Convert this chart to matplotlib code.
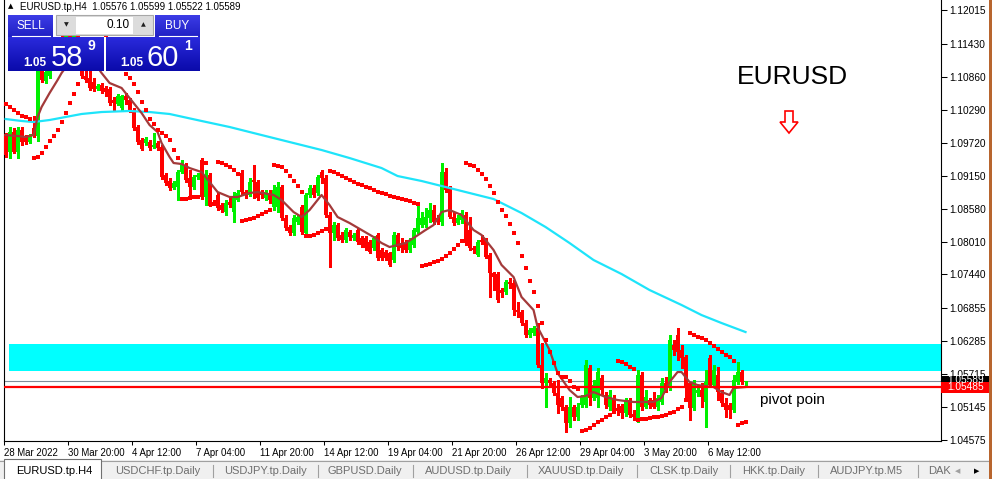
import numpy as np
import matplotlib
matplotlib.use("Agg")
import matplotlib.pyplot as plt
from matplotlib.patches import Rectangle, Polygon
from matplotlib.transforms import blended_transform_factory
from matplotlib.colors import LinearSegmentedColormap

plt.rcParams['font.family'] = ['Liberation Sans', 'DejaVu Sans']

# ---------------- data (EURUSD.tp, H4) ----------------
OPEN = [
    1.09870, 1.09558, 1.09904, 1.09558, 1.09939, 1.09800, 1.09731, 1.09974, 1.09835, 1.11115,
    1.10787, 1.10873, 1.11046, 1.11237, 1.11410, 1.11323, 1.11583, 1.11461, 1.11704, 1.11237,
    1.10873, 1.10839, 1.10769, 1.10648, 1.10718, 1.10666, 1.10648, 1.10458, 1.10389, 1.10320,
    1.10527, 1.10458, 1.10285, 1.09991, 1.09766, 1.09714, 1.09731, 1.09645, 1.09714, 1.09645,
    1.09160, 1.09057, 1.08936, 1.08953, 1.09212, 1.09333, 1.09108, 1.08953, 1.09126, 1.09420,
    1.08780, 1.09160, 1.08693, 1.08815, 1.08641, 1.08520, 1.08693, 1.08520, 1.08728, 1.09195,
    1.08866, 1.08815, 1.09074, 1.09039, 1.08866, 1.08763, 1.08849, 1.08607, 1.08607, 1.08953,
    1.08417, 1.08261, 1.08157, 1.08347, 1.08607, 1.08157, 1.08815, 1.08936, 1.08849, 1.09212,
    1.09108, 1.08469, 1.08157, 1.08295, 1.08123, 1.08036, 1.08174, 1.08071, 1.08209, 1.08071,
    1.08071, 1.08002, 1.07898, 1.08123, 1.07863, 1.07829, 1.07811, 1.07690, 1.08123, 1.07984,
    1.07984, 1.07863, 1.07950, 1.08174, 1.08295, 1.08295, 1.08417, 1.08555, 1.08417, 1.08347,
    1.09212, 1.08936, 1.08434, 1.08330, 1.08382, 1.08469, 1.08209, 1.07898, 1.07777, 1.08036,
    1.08036, 1.07777, 1.07465, 1.07448, 1.07171, 1.07137, 1.07310, 1.07293, 1.06825, 1.06790,
    1.06600, 1.06393, 1.06427, 1.06514, 1.05873, 1.05562, 1.05614, 1.05562, 1.05389, 1.05303,
    1.05147, 1.04870, 1.05147, 1.04974, 1.05182, 1.05182, 1.05822, 1.05303, 1.05303, 1.05649,
    1.05355, 1.05147, 1.05303, 1.05130, 1.05165, 1.05043, 1.05268, 1.05026, 1.04922, 1.05700,
    1.05147, 1.05268, 1.05268, 1.05147, 1.05234, 1.05562, 1.05476, 1.06220, 1.06393, 1.06133,
    1.06012, 1.05562, 1.05130, 1.05389, 1.05441, 1.05234, 1.05994, 1.05527, 1.05700, 1.05389,
    1.05216, 1.05182, 1.05095, 1.05579, 1.05752, 1.05576,
]
HIGH = [
    1.09887, 1.09991, 1.09974, 1.09991, 1.09991, 1.09852, 1.09870, 1.10181, 1.11150, 1.11237,
    1.11046, 1.11115, 1.11288, 1.11496, 1.11583, 1.11669, 1.11704, 1.11807, 1.11842, 1.11323,
    1.10977, 1.11012, 1.10839, 1.10735, 1.10752, 1.10700, 1.10683, 1.10510, 1.10562, 1.10545,
    1.10579, 1.10493, 1.10320, 1.10025, 1.09800, 1.09818, 1.09766, 1.09887, 1.09749, 1.09679,
    1.09195, 1.09108, 1.09057, 1.09247, 1.09420, 1.09368, 1.09247, 1.09160, 1.09195, 1.09454,
    1.09247, 1.09195, 1.08728, 1.08849, 1.08676, 1.08728, 1.08763, 1.08866, 1.08901, 1.09247,
    1.08901, 1.09108, 1.09333, 1.09074, 1.08901, 1.08901, 1.08901, 1.08987, 1.09039, 1.08987,
    1.08469, 1.08295, 1.08469, 1.08469, 1.08641, 1.08849, 1.08987, 1.08987, 1.09160, 1.09247,
    1.09160, 1.08520, 1.08347, 1.08330, 1.08174, 1.08244, 1.08209, 1.08157, 1.08244, 1.08105,
    1.08105, 1.08036, 1.08105, 1.08157, 1.07898, 1.07863, 1.07829, 1.08174, 1.08157, 1.08071,
    1.08036, 1.08071, 1.08244, 1.08676, 1.08520, 1.08590, 1.08676, 1.08641, 1.08469, 1.09368,
    1.09281, 1.08970, 1.08520, 1.08469, 1.08555, 1.08520, 1.08434, 1.07932, 1.08036, 1.08123,
    1.08071, 1.07811, 1.07482, 1.07482, 1.07206, 1.07344, 1.07379, 1.07344, 1.06963, 1.06825,
    1.06652, 1.06514, 1.06548, 1.06600, 1.06254, 1.05735, 1.05649, 1.05597, 1.05614, 1.05337,
    1.05182, 1.05320, 1.05182, 1.05216, 1.05355, 1.05960, 1.05873, 1.05614, 1.05822, 1.05700,
    1.05406, 1.05441, 1.05355, 1.05199, 1.05199, 1.05303, 1.05303, 1.05095, 1.05787, 1.05752,
    1.05441, 1.05303, 1.05406, 1.05355, 1.05649, 1.05667, 1.06393, 1.06306, 1.06514, 1.06220,
    1.06046, 1.05579, 1.05614, 1.05493, 1.05562, 1.05787, 1.06046, 1.05873, 1.05839, 1.05441,
    1.05303, 1.05216, 1.05700, 1.05925, 1.05787, 1.05599,
]
LOW = [
    1.09472, 1.09454, 1.09541, 1.09454, 1.09679, 1.09696, 1.09714, 1.09818, 1.09749, 1.10769,
    1.10752, 1.10839, 1.10977, 1.11150, 1.11237, 1.11288, 1.11358, 1.11410, 1.11185, 1.10839,
    1.10769, 1.10631, 1.10614, 1.10631, 1.10579, 1.10527, 1.10372, 1.10285, 1.10372, 1.10285,
    1.10389, 1.10250, 1.09939, 1.09696, 1.09593, 1.09679, 1.09593, 1.09627, 1.09593, 1.09091,
    1.08987, 1.08901, 1.08918, 1.08728, 1.09195, 1.09039, 1.08763, 1.08918, 1.09091, 1.08745,
    1.08641, 1.08624, 1.08641, 1.08555, 1.08520, 1.08469, 1.08607, 1.08347, 1.08711, 1.08832,
    1.08763, 1.08797, 1.08763, 1.08728, 1.08763, 1.08728, 1.08676, 1.08555, 1.08520, 1.08382,
    1.08209, 1.08123, 1.08123, 1.08313, 1.08140, 1.08123, 1.08780, 1.08780, 1.08815, 1.09022,
    1.08434, 1.07569, 1.08036, 1.08036, 1.08002, 1.08002, 1.08036, 1.08036, 1.07967, 1.07915,
    1.07863, 1.07811, 1.07863, 1.07690, 1.07690, 1.07690, 1.07586, 1.07656, 1.07863, 1.07829,
    1.07829, 1.07829, 1.07915, 1.08157, 1.08261, 1.08261, 1.08347, 1.08313, 1.08313, 1.08295,
    1.08866, 1.08417, 1.08295, 1.08313, 1.08330, 1.07950, 1.07863, 1.07811, 1.07759, 1.07967,
    1.07725, 1.07050, 1.07171, 1.06963, 1.07050, 1.07102, 1.07206, 1.06738, 1.06704, 1.06566,
    1.06358, 1.06358, 1.06393, 1.05839, 1.05476, 1.05147, 1.05527, 1.05355, 1.05043, 1.05095,
    1.04714, 1.04801, 1.04922, 1.04922, 1.05147, 1.05147, 1.05182, 1.05268, 1.05147, 1.05355,
    1.05130, 1.05095, 1.05043, 1.05009, 1.04957, 1.04991, 1.04974, 1.04922, 1.04887, 1.05095,
    1.05130, 1.05130, 1.05130, 1.05095, 1.05199, 1.05406, 1.05441, 1.06046, 1.05960, 1.05822,
    1.05303, 1.04922, 1.05095, 1.05337, 1.05147, 1.04801, 1.05493, 1.05493, 1.05268, 1.05165,
    1.04974, 1.04957, 1.05060, 1.05545, 1.05545, 1.05522,
]
CLOSE = [
    1.09506, 1.09904, 1.09558, 1.09939, 1.09731, 1.09731, 1.09852, 1.09852, 1.11012, 1.10804,
    1.10942, 1.11046, 1.11237, 1.11410, 1.11323, 1.11583, 1.11461, 1.11704, 1.11237, 1.10873,
    1.10804, 1.10666, 1.10648, 1.10700, 1.10614, 1.10596, 1.10406, 1.10406, 1.10527, 1.10527,
    1.10458, 1.10285, 1.09974, 1.09731, 1.09610, 1.09783, 1.09627, 1.09679, 1.09627, 1.09126,
    1.09022, 1.08936, 1.09022, 1.09212, 1.09333, 1.09074, 1.08953, 1.09126, 1.09160, 1.08780,
    1.09160, 1.08641, 1.08659, 1.08590, 1.08555, 1.08676, 1.08641, 1.08780, 1.08849, 1.08866,
    1.08815, 1.09039, 1.09039, 1.08763, 1.08815, 1.08866, 1.08728, 1.08901, 1.08953, 1.08417,
    1.08244, 1.08157, 1.08417, 1.08434, 1.08174, 1.08815, 1.08936, 1.08815, 1.09126, 1.09108,
    1.08469, 1.08157, 1.08295, 1.08071, 1.08036, 1.08209, 1.08088, 1.08123, 1.08002, 1.07950,
    1.07898, 1.07829, 1.08071, 1.07725, 1.07725, 1.07725, 1.07604, 1.08123, 1.07915, 1.07898,
    1.07863, 1.08002, 1.08209, 1.08417, 1.08417, 1.08434, 1.08555, 1.08347, 1.08347, 1.09212,
    1.08901, 1.08434, 1.08330, 1.08417, 1.08503, 1.07984, 1.07898, 1.07863, 1.08002, 1.08002,
    1.07742, 1.07465, 1.07396, 1.06998, 1.07119, 1.07310, 1.07275, 1.06825, 1.06790, 1.06600,
    1.06393, 1.06479, 1.06514, 1.05873, 1.05562, 1.05649, 1.05562, 1.05389, 1.05182, 1.05147,
    1.04870, 1.05147, 1.04974, 1.05147, 1.05320, 1.05873, 1.05303, 1.05527, 1.05752, 1.05441,
    1.05182, 1.05355, 1.05095, 1.05078, 1.05043, 1.05268, 1.05009, 1.04974, 1.05700, 1.05147,
    1.05320, 1.05182, 1.05147, 1.05303, 1.05562, 1.05441, 1.06306, 1.06133, 1.06098, 1.05994,
    1.05476, 1.05130, 1.05562, 1.05441, 1.05320, 1.05579, 1.05527, 1.05787, 1.05406, 1.05216,
    1.05095, 1.05095, 1.05614, 1.05752, 1.05579, 1.05589,
]
SAR = [
    1.10389, 1.10337, 1.10285, 1.10233, 1.10181, 1.10164, 1.10129, 1.09454, 1.09472, 1.09541,
    1.09645, 1.09749, 1.09835, 1.09939, 1.10077, 1.10233, 1.10406, 1.10562, 1.10735, 1.10908,
    1.11842, 1.11825, 1.11790, 1.11738, 1.11669, 1.11583, 1.11461, 1.11323, 1.11185, 1.11046,
    1.10908, 1.10839, 1.10735, 1.10596, 1.10424, 1.10285, 1.10129, 1.10043, 1.09939, 1.09887,
    1.09835, 1.09766, 1.09593, 1.09454, 1.08745, 1.08745, 1.08763, 1.08780, 1.08780, 1.09368,
    1.09368, 1.08659, 1.08659, 1.09385, 1.09368, 1.09333, 1.09299, 1.09247, 1.09178, 1.08365,
    1.08382, 1.08399, 1.08417, 1.08451, 1.08486, 1.08520, 1.08555, 1.09333, 1.09316, 1.09299,
    1.09229, 1.09143, 1.09057, 1.08970, 1.08866, 1.08105, 1.08105, 1.08123, 1.08157, 1.08192,
    1.08226, 1.09229, 1.09212, 1.09178, 1.09143, 1.09108, 1.09074, 1.09039, 1.09005, 1.08987,
    1.08953, 1.08936, 1.08901, 1.08866, 1.08849, 1.08832, 1.08797, 1.08780, 1.08763, 1.08745,
    1.08728, 1.08711, 1.08676, 1.08659, 1.07586, 1.07604, 1.07621, 1.07656, 1.07673, 1.07707,
    1.07759, 1.07811, 1.07881, 1.07950, 1.08019, 1.09368, 1.09333, 1.09316, 1.09247, 1.09178,
    1.09091, 1.08970, 1.08849, 1.08693, 1.08555, 1.08451, 1.08313, 1.08157, 1.07984, 1.07759,
    1.07552, 1.07327, 1.07137, 1.06894, 1.06600, 1.06306, 1.06098, 1.05908, 1.05735, 1.05667,
    1.05667, 1.05597, 1.05493, 1.05458, 1.04732, 1.04749, 1.04784, 1.04835, 1.04887, 1.04922,
    1.04974, 1.05009, 1.05060, 1.05943, 1.05925, 1.05891, 1.05839, 1.05804, 1.04922, 1.04939,
    1.04939, 1.04957, 1.04974, 1.04974, 1.04991, 1.05009, 1.05043, 1.05060, 1.05113, 1.05147,
    1.05268, 1.06427, 1.06393, 1.06358, 1.06341, 1.06306, 1.06254, 1.06202, 1.06150, 1.06098,
    1.06046, 1.06012, 1.05943, 1.04835, 1.04870, 1.04887,
]
# fast moving average (brown), read at bar indices
MA_FAST_BAR = [0, 3, 5, 7, 8, 9, 11, 13, 14, 16, 18, 20, 22, 24, 26, 29, 30, 32, 34, 36,
               38, 39, 41, 42, 44, 46, 49, 51, 53, 56, 58, 61, 63, 67, 69, 72, 74, 76, 77, 79,
               81, 83, 86, 89, 92, 94, 96, 98, 100, 102, 105, 107, 109, 111, 114, 117, 119, 122, 124, 127,
               129, 132, 133, 136, 138, 141, 143, 145, 147, 150, 153, 157, 162, 164, 166, 168, 169, 171, 173, 177,
               179, 181, 182, 185]
MA_FAST_VAL = [1.09852, 1.09835, 1.09818, 1.09852, 1.10164, 1.10337, 1.10579, 1.10804, 1.10925, 1.11115,
               1.11237, 1.11237, 1.11115, 1.10925, 1.10752, 1.10666, 1.10579, 1.10406, 1.10233, 1.10025,
               1.09904, 1.09714, 1.09472, 1.09368, 1.09351, 1.09281, 1.09212, 1.09039, 1.08866, 1.08780,
               1.08780, 1.08849, 1.08866, 1.08815, 1.08728, 1.08520, 1.08434, 1.08555, 1.08641, 1.08815,
               1.08641, 1.08434, 1.08330, 1.08209, 1.08088, 1.07984, 1.07915, 1.07950, 1.07984, 1.08071,
               1.08209, 1.08295, 1.08520, 1.08555, 1.08469, 1.08209, 1.08123, 1.07863, 1.07604, 1.07396,
               1.07050, 1.06825, 1.06531, 1.06133, 1.05735, 1.05441, 1.05320, 1.05337, 1.05406, 1.05320,
               1.05268, 1.05234, 1.05234, 1.05303, 1.05579, 1.05752, 1.05752, 1.05579, 1.05527, 1.05493,
               1.05406, 1.05355, 1.05476, 1.05493]
# slow moving average (cyan)
MA_SLOW_BAR = [0, 4, 7, 11, 15, 19, 24, 31, 36, 41, 49, 56, 64, 71, 79, 86, 94, 98, 104, 110,
               116, 122, 129, 135, 141, 147, 154, 161, 169, 174, 179, 185]
MA_SLOW_VAL = [1.10129, 1.10095, 1.10077, 1.10112, 1.10164, 1.10216, 1.10250, 1.10268, 1.10250, 1.10216,
               1.10095, 1.09991, 1.09852, 1.09731, 1.09593, 1.09454, 1.09281, 1.09143, 1.09057, 1.08953,
               1.08849, 1.08745, 1.08503, 1.08261, 1.07984, 1.07690, 1.07448, 1.07171, 1.06912, 1.06738,
               1.06600, 1.06444]

ZONE_TOP = 1.06240
ZONE_BOTTOM = 1.05770
PIVOT = 1.05485
BID = 1.05589

X_TICK_BARS = [0, 16, 32, 48, 64, 80, 96, 112, 128, 144, 160, 176]
X_TICK_LABELS = ["28 Mar 2022", "30 Mar 20:00", "4 Apr 12:00", "7 Apr 04:00", "11 Apr 20:00",
                 "14 Apr 12:00", "19 Apr 04:00", "21 Apr 20:00", "26 Apr 12:00", "29 Apr 04:00",
                 "3 May 20:00", "6 May 12:00"]
Y_TICKS = [1.12015, 1.11430, 1.10860, 1.10290, 1.09720, 1.09150, 1.08580, 1.08010,
           1.07440, 1.06855, 1.06285, 1.05715, 1.05145, 1.04575]

TABS = ["EURUSD.tp.H4", "USDCHF.tp.Daily", "USDJPY.tp.Daily", "GBPUSD.Daily", "AUDUSD.tp.Daily",
        "XAUUSD.tp.Daily", "CLSK.tp.Daily", "HKK.tp.Daily", "AUDJPY.tp.M5", "DAK"]

# ---------------- figure ----------------
W, H = 992, 479
fig = plt.figure(figsize=(W / 100, H / 100), dpi=100)
fig.patch.set_facecolor('white')

ax = fig.add_axes([4 / W, 38 / H, 937 / W, 441 / H])
ax.set_facecolor('white')
o = np.array(OPEN); h = np.array(HIGH); l = np.array(LOW); c = np.array(CLOSE)
n = len(c)
xb = np.arange(n)
ax.set_xlim(-0.375, 233.875)
ax.set_ylim(1.04559, 1.12188)

GREEN = '#00F000'
RED = '#FF0000'

# support / resistance zone
ax.add_patch(Rectangle((0.9, ZONE_BOTTOM), 240, ZONE_TOP - ZONE_BOTTOM,
                       facecolor='#00FFFF', edgecolor='none', zorder=0.5))
# bid line
ax.axhline(BID, color='#7F8C99', lw=0.8, zorder=2)

up = c >= o
cols = np.where(up, GREEN, RED)
ax.vlines(xb, l, h, colors=cols, linewidth=0.8, antialiased=False, zorder=3)
body_bot = np.minimum(o, c)
body_h = np.maximum(np.abs(c - o), 0.00012)
ax.bar(xb, body_h, bottom=body_bot, width=0.72, color=cols, linewidth=0,
       antialiased=False, zorder=4)

ax.plot(MA_SLOW_BAR, MA_SLOW_VAL, color='#1EE4FA', lw=1.6, zorder=5, solid_joinstyle='round')
ax.plot(MA_FAST_BAR, MA_FAST_VAL, color='#A33A3A', lw=1.6, zorder=5, solid_joinstyle='round')
ax.plot(xb, SAR, linestyle='none', marker='s', ms=2.2, mew=0, color='#FF0000', zorder=6,
        antialiased=False)

# pivot line
ax.axhline(PIVOT, color='#FF0000', lw=1.6, zorder=7)

# axes styling
ax.spines['top'].set_visible(False)
for s in ['left', 'right', 'bottom']:
    ax.spines[s].set_color('black')
    ax.spines[s].set_linewidth(0.8)
ax.yaxis.tick_right()
ax.set_yticks(Y_TICKS)
ax.set_yticklabels([f"{v:.5f}" for v in Y_TICKS])
ax.tick_params(axis='y', direction='out', length=4, width=0.75, pad=2, labelsize=7.3, colors='black')
ax.set_xticks(np.array(X_TICK_BARS) - 0.4)
ax.set_xticklabels(X_TICK_LABELS)
ax.tick_params(axis='x', direction='out', length=3.2, width=0.75, pad=2.2, labelsize=6.9, colors='black')
for lab in ax.get_xticklabels():
    lab.set_ha('left')

# price tags on the right axis
bt = blended_transform_factory(ax.transAxes, ax.transData)
tag_h = 0.00205
ax.add_patch(Rectangle((1.0, BID - tag_h / 2), 0.0525, tag_h, transform=bt, clip_on=False,
                       facecolor='black', edgecolor='none', zorder=8))
ax.text(1.0065, BID + 0.0002, f"{BID:.5f}", transform=bt, color='white', fontsize=7.3,
        va='center', ha='left', clip_on=False, zorder=9)
ax.add_patch(Rectangle((1.0, PIVOT - tag_h / 2), 0.0525, tag_h, transform=bt, clip_on=False,
                       facecolor='#FF0000', edgecolor='none', zorder=10))
ax.text(1.0065, PIVOT, f"{PIVOT:.5f}", transform=bt, color='white', fontsize=7.3,
        va='center', ha='left', clip_on=False, zorder=11)

# ---------------- overlay (pixel coordinates) ----------------
ov = fig.add_axes([0, 0, 1, 1], zorder=5)
ov.patch.set_visible(False)
ov.axis('off')


def grad(x0, y0, x1, y1, ctop, cbot):
    cm = LinearSegmentedColormap.from_list('g', [ctop, cbot])
    g = np.linspace(0, 1, 64).reshape(-1, 1)
    ov.imshow(g, extent=(x0, x1, y1, y0), aspect='auto', cmap=cm, interpolation='bilinear', zorder=3)


# header
ov.text(8, 6, '\u25B2', fontsize=5, color='black', va='center', ha='left', family='DejaVu Sans')
ov.text(20, 6.5, "EURUSD.tp,H4  1.05576 1.05599 1.05522 1.05589", fontsize=7, color='black',
        va='center', ha='left')

# one-click trading panel
grad(8, 15, 53, 37, '#3C3CE6', '#2020C4')
grad(155, 15, 200, 37, '#3C3CE6', '#2020C4')
ov.plot([12, 50], [36, 36], color='white', lw=0.8, zorder=4)
ov.plot([159, 197], [36, 36], color='white', lw=0.8, zorder=4)
ov.text(30.5, 26, "SELL", color='white', fontsize=8.5, ha='center', va='center', zorder=5)
ov.text(177.5, 26, "BUY", color='white', fontsize=8.5, ha='center', va='center', zorder=5)
ov.add_patch(Rectangle((56, 15), 97, 20, facecolor='#DCDCDC', edgecolor='#A8A8A8', lw=0.8, zorder=3))
ov.add_patch(Rectangle((76, 16.5), 57, 17, facecolor='white', edgecolor='none', zorder=4))
ov.text(66, 25, '\u25BC', fontsize=4.5, color='#202020', ha='center', va='center', zorder=5,
        family='DejaVu Sans')
ov.text(143, 25, '\u25B2', fontsize=4.5, color='#202020', ha='center', va='center', zorder=5,
        family='DejaVu Sans')
ov.text(130, 25, "0.10", fontsize=8.5, color='black', ha='right', va='center', zorder=5)
grad(8, 37, 104, 71, '#2A2ADC', '#0A0AAA')
grad(106, 37, 200, 71, '#2A2ADC', '#0A0AAA')
ov.text(23, 66, "1.05", color='white', fontsize=8.5, fontweight='bold', ha='left', va='baseline', zorder=5)
ov.text(51, 66, "58", color='white', fontsize=21, ha='left', va='baseline', zorder=5)
ov.text(87, 46, "9", color='white', fontsize=10, fontweight='bold', ha='left', va='center', zorder=5)
ov.text(120, 66, "1.05", color='white', fontsize=8.5, fontweight='bold', ha='left', va='baseline', zorder=5)
ov.text(146, 66, "60", color='white', fontsize=21, ha='left', va='baseline', zorder=5)
ov.text(184, 46, "1", color='white', fontsize=10, fontweight='bold', ha='left', va='center', zorder=5)

# annotations
ov.text(737, 77, "EURUSD", fontsize=19, color='black', ha='left', va='center', zorder=5)
arrow = Polygon([(785, 111), (793, 111), (793, 122), (798, 122), (789, 133), (780, 122), (785, 122)],
                closed=True, facecolor='white', edgecolor='#FF0000', lw=1.2, zorder=5)
ov.add_patch(arrow)
ov.text(760, 400, "pivot poin", fontsize=11, color='black', ha='left', va='center', zorder=5)

# tab bar
ov.add_patch(Rectangle((0, 460), W, 19, facecolor='#F0F0F0', edgecolor='none', zorder=2))
ov.plot([0, W], [460.5, 460.5], color='#A0A0A0', lw=0.8, zorder=3)
ov.add_patch(Rectangle((4, 459), 97, 21, facecolor='white', edgecolor='#707070', lw=0.8, zorder=3))
tab_x = [16, 115, 224, 328, 425, 538, 649, 742, 830, 928]
sep_x = [213, 318, 413, 527, 637, 730, 818, 918]
for i, (tx, name) in enumerate(zip(tab_x, TABS)):
    ov.text(tx, 471, name, fontsize=8, color='black' if i == 0 else '#6E6E6E',
            ha='left', va='center', zorder=5)
for sx in sep_x:
    ov.plot([sx, sx], [465, 477], color='#A0A0A0', lw=0.8, zorder=4)
ov.text(958, 471, '\u25C0', fontsize=5, color='#A0A0A0', ha='center', va='center',
        family='DejaVu Sans', zorder=5)
ov.text(977, 471, '\u25B6', fontsize=5, color='black', ha='center', va='center',
        family='DejaVu Sans', zorder=5)

# window edge
ov.add_patch(Rectangle((989, 0), 3, H, facecolor='#B8652E', edgecolor='none', zorder=6))

ov.set_xlim(0, W)
ov.set_ylim(H, 0)

fig.savefig("out.png", dpi=100)
